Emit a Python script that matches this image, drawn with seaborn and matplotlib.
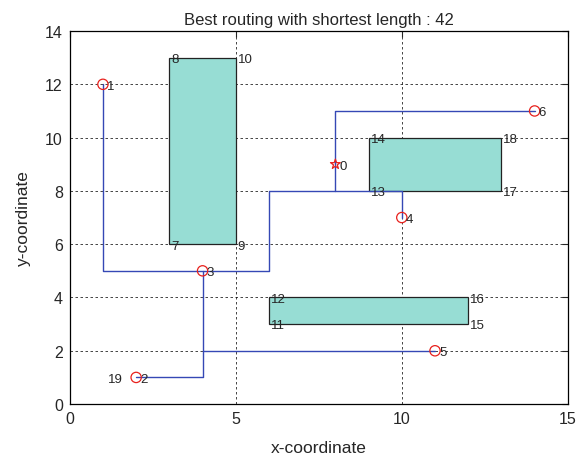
import matplotlib
matplotlib.use("Agg")
import matplotlib.pyplot as plt
from matplotlib.patches import Rectangle
import numpy as np
import pandas as pd
import seaborn as sns

# Obstacles: lower-left corner, width, height
obstacle_x = [3, 9, 6]
obstacle_y = [6, 8, 3]
obstacle_w = [2, 4, 6]
obstacle_h = [7, 2, 1]

# Corner vertices of the obstacles with their indices
corner_ids = [7, 8, 9, 10, 11, 12, 13, 14, 15, 16, 17, 18]
corner_x = [3, 3, 5, 5, 6, 6, 9, 9, 12, 12, 13, 13]
corner_y = [6, 13, 6, 13, 3, 4, 8, 10, 3, 4, 8, 10]

# Pins to be connected (0 is the source)
pin_ids = [0, 1, 2, 3, 4, 5, 6]
pin_x = [8, 1, 2, 4, 10, 11, 14]
pin_y = [9, 12, 1, 5, 7, 2, 11]

# Routed wire segments (polylines)
route_seg = [0, 0, 0, 0, 0, 0, 1, 1, 1, 2, 2, 2, 3, 3, 3]
route_x = [1, 1, 6, 6, 10, 10, 8, 8, 14, 4, 4, 11, 4, 4, 2]
route_y = [12, 5, 5, 8, 8, 7, 8, 11, 11, 5, 2, 2, 2, 1, 1]

title = "Best routing with shortest length : 42"
x_ticks = [0, 5, 10, 15]
y_ticks = [0, 2, 4, 6, 8, 10, 12, 14]

sns.set_style("white")
plt.rcParams["font.family"] = ["Liberation Sans", "DejaVu Sans"]

fig = plt.figure(figsize=(5.86, 4.64), dpi=100)
ax = fig.add_axes([0.119, 0.127, 0.850, 0.804])

for x0, y0, w, h in zip(obstacle_x, obstacle_y, obstacle_w, obstacle_h):
    ax.add_patch(Rectangle((x0, y0), w, h, facecolor="#97ddd4",
                           edgecolor="#222222", linewidth=0.9, zorder=2))

routes = pd.DataFrame({"seg": route_seg, "x": route_x, "y": route_y})
sns.lineplot(data=routes, x="x", y="y", units="seg", estimator=None,
             sort=False, color="#3548b5", linewidth=1.0, ax=ax, zorder=3)

pins = pd.DataFrame({"id": pin_ids, "x": pin_x, "y": pin_y})
src = pins[pins["id"] == 0]
others = pins[pins["id"] != 0]
sns.scatterplot(data=others, x="x", y="y", marker="o", s=55,
                facecolors="none", edgecolor="#e8201c", linewidth=0.9,
                ax=ax, zorder=4)
sns.scatterplot(data=src, x="x", y="y", marker="*", s=55,
                facecolors="none", edgecolor="#e8201c", linewidth=0.9,
                ax=ax, zorder=4)

for pid, px, py in zip(pin_ids, pin_x, pin_y):
    ax.text(px + 0.12, py - 0.05, str(pid), fontsize=9.5, ha="left",
            va="center", zorder=5)
ax.text(1.15, 1.0 - 0.05, "19", fontsize=9.5, ha="left", va="center", zorder=5)

for cid, cx, cy in zip(corner_ids, corner_x, corner_y):
    ax.text(cx + 0.06, cy - 0.05, str(cid), fontsize=9.5, ha="left",
            va="center", zorder=5)

ax.set_xlim(0, 15)
ax.set_ylim(0, 14)
ax.set_xticks(x_ticks)
ax.set_yticks(y_ticks)
ax.grid(True, color="black", linestyle=(0, (3, 3)), linewidth=0.6, alpha=0.85)
ax.set_axisbelow(True)
ax.tick_params(direction="in", top=True, right=True, length=4, width=0.8,
               labelsize=11.5, pad=5)
for sp in ax.spines.values():
    sp.set_color("black")
    sp.set_linewidth(0.9)

ax.set_title(title, fontsize=12, pad=5)
ax.set_xlabel("x-coordinate", fontsize=12.5, labelpad=10)
ax.set_ylabel("y-coordinate", fontsize=12.5, labelpad=10)

fig.savefig("out.png", dpi=100)
